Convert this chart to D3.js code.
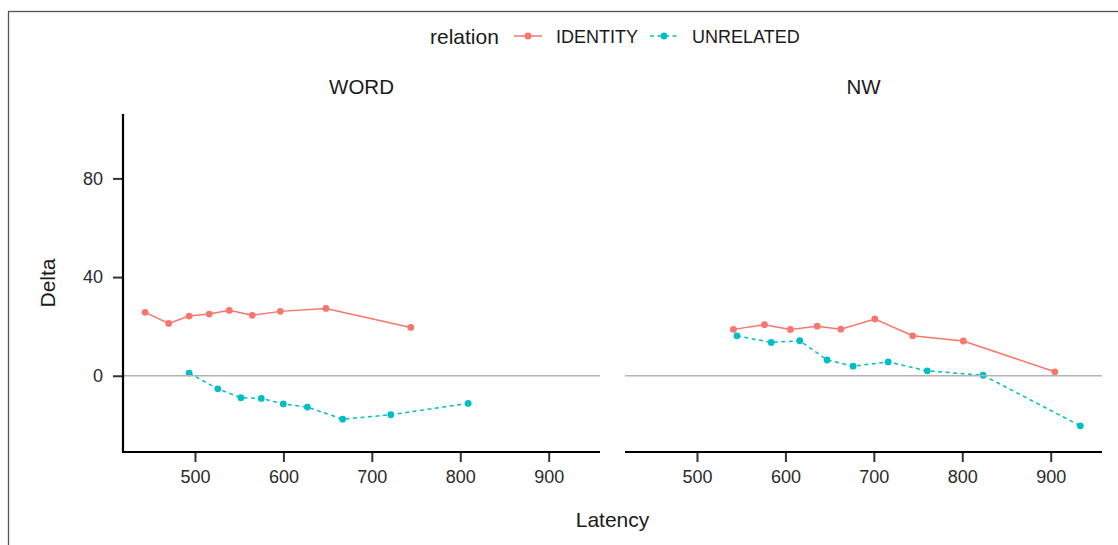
<!DOCTYPE html>
<meta charset="utf-8">
<style>
  body { margin: 0; background: #fff; }
  text { font-family: "Liberation Sans", Arial, Helvetica, sans-serif; fill: #1a1a1a; }
  .tick text { font-size: 18px; fill: #2b2b2b; }
</style>
<body>
<script src="https://cdnjs.cloudflare.com/ajax/libs/d3/7.8.5/d3.min.js"></script>
<script>
// facets and series
var panels = ["WORD", "NW"];
var relations = ["IDENTITY", "UNRELATED"];
var xTicks = [500, 600, 700, 800, 900];
var yTicks = [0, 40, 80];

// WORD panel
var latencyWordIdentity = [443.6, 470.3, 493.4, 516.1, 538.7, 564.8, 596.5, 648.1, 744.1];
var deltaWordIdentity   = [25.7, 21.2, 24.2, 25.0, 26.5, 24.5, 26.1, 27.3, 19.6];
var latencyWordUnrelated = [493.4, 525.8, 551.9, 575.0, 599.9, 627.1, 667.0, 721.4, 808.9];
var deltaWordUnrelated   = [1.1, -5.3, -8.9, -9.2, -11.4, -12.7, -17.6, -15.8, -11.2];

// NW panel
var latencyNwIdentity = [541.2, 576.3, 605.7, 635.9, 662.7, 701.2, 743.9, 801.2, 904.6];
var deltaNwIdentity   = [18.8, 20.7, 18.8, 20.1, 18.9, 23.0, 16.2, 14.1, 1.6];
var latencyNwUnrelated = [545.2, 584.0, 616.2, 647.1, 676.5, 716.2, 760.4, 823.5, 933.5];
var deltaNwUnrelated   = [16.2, 13.5, 14.2, 6.4, 3.9, 5.6, 2.0, 0.2, -20.3];

var colors = {IDENTITY: "#F8766D", UNRELATED: "#00BFC4"};
var dashes = {IDENTITY: null, UNRELATED: "4,3.5"};

function zip(xs, ys) { return xs.map(function(x, i) { return {x: x, y: ys[i]}; }); }

var series = {
  WORD: {IDENTITY: zip(latencyWordIdentity, deltaWordIdentity), UNRELATED: zip(latencyWordUnrelated, deltaWordUnrelated)},
  NW:   {IDENTITY: zip(latencyNwIdentity, deltaNwIdentity),     UNRELATED: zip(latencyNwUnrelated, deltaNwUnrelated)}
};

var width = 1118, height = 545;
var panelW = 477, plotTop = 114, plotBottom = 452;
var panelX = {WORD: 123, NW: 625};

var svg = d3.select("body").append("svg")
    .attr("width", width)
    .attr("height", height);

// outer frame (only top/left edges fall inside the picture)
svg.append("rect")
    .attr("x", 8.5).attr("y", 11.5)
    .attr("width", 1300).attr("height", 700)
    .attr("fill", "none")
    .attr("stroke", "#555")
    .attr("stroke-width", 1.3);

var x = d3.scaleLinear().domain([418.6, 958]).range([0, panelW]);
var y = d3.scaleLinear().domain([-30.9, 106.1]).range([plotBottom, plotTop]);

var line = d3.line().x(function(d) { return x(d.x); }).y(function(d) { return y(d.y); });

panels.forEach(function(p) {
  var g = svg.append("g").attr("transform", "translate(" + panelX[p] + ",0)");

  // strip label
  g.append("text")
      .attr("x", panelW / 2).attr("y", 94)
      .attr("text-anchor", "middle")
      .style("font-size", "20.5px")
      .text(p);

  relations.forEach(function(r) {
    g.append("path")
        .datum(series[p][r])
        .attr("d", line)
        .attr("fill", "none")
        .attr("stroke", colors[r])
        .attr("stroke-width", 1.5)
        .attr("stroke-dasharray", dashes[r]);
    g.selectAll(null)
        .data(series[p][r])
        .enter().append("circle")
        .attr("cx", function(d) { return x(d.x); })
        .attr("cy", function(d) { return y(d.y); })
        .attr("r", 3.4)
        .attr("fill", colors[r]);
  });

  // reference line at zero
  g.append("line")
      .attr("x1", 0).attr("x2", panelW)
      .attr("y1", y(0)).attr("y2", y(0))
      .attr("stroke", "#b3b3b3")
      .attr("stroke-width", 1.5);

  // x axis
  var xa = g.append("g")
      .attr("transform", "translate(0," + plotBottom + ")")
      .call(d3.axisBottom(x).tickValues(xTicks).tickSize(10).tickPadding(8).tickFormat(d3.format("d")));
  xa.select(".domain").remove();
  xa.selectAll(".tick line").attr("stroke", "#333").attr("stroke-width", 2);
  g.append("line")
      .attr("x1", 0).attr("x2", panelW)
      .attr("y1", plotBottom).attr("y2", plotBottom)
      .attr("stroke", "#000").attr("stroke-width", 2.2);

  if (p === "WORD") {
    var ya = g.append("g")
        .call(d3.axisLeft(y).tickValues(yTicks).tickSize(10).tickPadding(10));
    ya.select(".domain").remove();
    ya.selectAll(".tick line").attr("stroke", "#333").attr("stroke-width", 2);
    g.append("line")
        .attr("x1", 0).attr("x2", 0)
        .attr("y1", plotTop).attr("y2", plotBottom + 1.1)
        .attr("stroke", "#000").attr("stroke-width", 2.2);
  }
});

// axis titles
svg.append("text")
    .attr("x", (panelX.WORD + panelX.NW + panelW) / 2).attr("y", 527)
    .attr("text-anchor", "middle")
    .style("font-size", "21px")
    .text("Latency");
svg.append("text")
    .attr("transform", "translate(55," + (plotTop + plotBottom) / 2 + ") rotate(-90)")
    .attr("text-anchor", "middle")
    .style("font-size", "21px")
    .text("Delta");

// legend
var legend = svg.append("g");
legend.append("text")
    .attr("x", 430).attr("y", 43.5)
    .style("font-size", "21px")
    .text("relation");
var keyX = {IDENTITY: 514, UNRELATED: 650};
relations.forEach(function(r) {
  legend.append("line")
      .attr("x1", keyX[r]).attr("x2", keyX[r] + 28)
      .attr("y1", 36).attr("y2", 36)
      .attr("stroke", colors[r]).attr("stroke-width", 1.5)
      .attr("stroke-dasharray", dashes[r]);
  legend.append("circle")
      .attr("cx", keyX[r] + 14).attr("cy", 36).attr("r", 3.4)
      .attr("fill", colors[r]);
  legend.append("text")
      .attr("x", keyX[r] + 42).attr("y", 42.5)
      .style("font-size", "18px")
      .text(r);
});
</script>
</body>
